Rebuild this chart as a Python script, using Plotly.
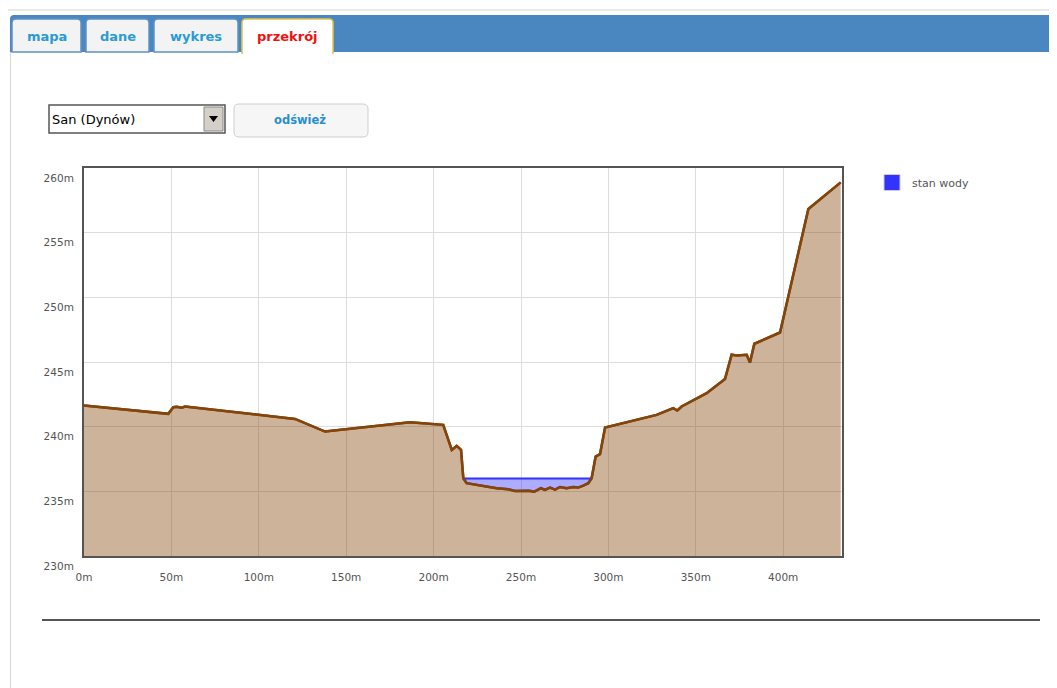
import plotly.graph_objects as go

# ---------------- data ----------------
distance_m = [0, 48.2, 51.1, 53.0, 55.9, 57.8, 120.7, 137.9, 186.5, 205.5, 210.4, 213.2,
              215.7, 217.0, 218.9, 227.5, 233.2, 236.1, 242.7, 246.6, 254.2, 257.6, 261.4,
              263.7, 266.6, 269.5, 272.3, 276.1, 279.9, 282.8, 285.6, 288.5, 290.4, 292.7,
              295.2, 298.1, 327.6, 337.1, 339.4, 341.9, 356.2, 366.7, 370.5, 373.4, 379.1,
              381.0, 383.5, 398.2, 414.4, 432.9]
elevation_m = [241.63, 240.99, 241.51, 241.53, 241.46, 241.56, 240.60, 239.62, 240.35, 240.14,
               238.20, 238.51, 238.20, 236.01, 235.63, 235.44, 235.29, 235.24, 235.16, 235.03,
               235.05, 234.98, 235.24, 235.11, 235.29, 235.13, 235.34, 235.24, 235.34, 235.29,
               235.44, 235.63, 236.01, 237.69, 237.87, 239.93, 240.91, 241.43, 241.25, 241.56,
               242.59, 243.68, 245.56, 245.50, 245.56, 244.96, 246.41, 247.28, 256.83, 258.89]
water_level_m = 236.0
water_start_m = 217.0
water_end_m = 290.4

x_ticks = [0, 50, 100, 150, 200, 250, 300, 350, 400]
x_tick_labels = ["0m", "50m", "100m", "150m", "200m", "250m", "300m", "350m", "400m"]
y_ticks = [230, 235, 240, 245, 250, 255, 260]
y_tick_labels = ["230m", "235m", "240m", "245m", "250m", "255m", "260m"]

tab_labels = ["mapa", "dane", "wykres", "przekrój"]
station_label = "San (Dynów)"
button_label = "odśwież"
legend_label = "stan wody"

# ---------------- page geometry (window pixels) ----------------
WIN_W, WIN_H = 1057, 688
OFF = 8  # default body margin of the html page
W, H = WIN_W - OFF, WIN_H - OFF
PL, PR, PT, PB = 84, 842, 168, 556


def px(X):
    return (X - OFF) / W


def py(Y):
    return 1 - (Y - OFF) / H


bed_x = [d for d in distance_m if water_start_m <= d <= water_end_m]
bed_y = [e for d, e in zip(distance_m, elevation_m) if water_start_m <= d <= water_end_m]

GROUND_LINE = "#85450a"
GROUND_FILL = "rgba(128,64,0,0.4)"
WATER = "#3333ff"
WATER_FILL = "rgba(51,51,255,0.4)"
TICK_FONT = dict(family="DejaVu Sans", size=10.5, color="#545454")

fig = go.Figure()

# ground profile (filled)
fig.add_trace(go.Scatter(x=distance_m, y=elevation_m, mode="lines", fill="tozeroy",
                         fillcolor=GROUND_FILL, line=dict(color=GROUND_LINE, width=2.5),
                         showlegend=False, hoverinfo="skip"))
# river bed under water (fill base)
fig.add_trace(go.Scatter(x=bed_x, y=bed_y, mode="lines", line=dict(width=0, color=WATER),
                         showlegend=False, hoverinfo="skip"))
# water surface filled down to the bed
fig.add_trace(go.Scatter(x=[water_start_m, water_end_m], y=[water_level_m, water_level_m],
                         mode="lines", fill="tonexty", fillcolor=WATER_FILL,
                         line=dict(color=WATER, width=2), showlegend=False, hoverinfo="skip"))
# ground line again on top of water
fig.add_trace(go.Scatter(x=distance_m, y=elevation_m, mode="lines",
                         line=dict(color=GROUND_LINE, width=2.5),
                         showlegend=False, hoverinfo="skip"))
# legend entry
fig.add_trace(go.Scatter(x=[None], y=[None], mode="markers", name=legend_label,
                         marker=dict(symbol="square", size=16, color=WATER,
                                     line=dict(color="#cccccc", width=1))))

shapes = []
annotations = []

# top light line and blue tab bar
shapes.append(dict(type="rect", xref="paper", yref="paper", x0=px(0), x1=px(WIN_W), y0=py(11), y1=py(9),
                   line=dict(width=0), fillcolor="#e8e8e8", layer="below"))
shapes.append(dict(type="path", xref="paper", yref="paper",
                   path=f"M {px(10)},{py(52)} L {px(10)},{py(19)} Q {px(10)},{py(15)} {px(14)},{py(15)} "
                        f"L {px(WIN_W)},{py(15)} L {px(WIN_W)},{py(52)} Z",
                   line=dict(width=0), fillcolor="#4a87c0", layer="below"))
# content left border
shapes.append(dict(type="line", xref="paper", yref="paper", x0=px(10.5), x1=px(10.5), y0=py(52), y1=py(WIN_H),
                   line=dict(color="#d8d8d8", width=1), layer="below"))

tab_boxes = [(12, 81), (86, 149), (154, 238), (242, 333)]
for i, ((x0, x1), lab) in enumerate(zip(tab_boxes, tab_labels)):
    active = i == len(tab_labels) - 1
    r = 4
    y0, y1 = 19, 53 if active else 52
    path = (f"M {px(x0)},{py(y1)} L {px(x0)},{py(y0 + r)} Q {px(x0)},{py(y0)} {px(x0 + r)},{py(y0)} "
            f"L {px(x1 - r)},{py(y0)} Q {px(x1)},{py(y0)} {px(x1)},{py(y0 + r)} L {px(x1)},{py(y1)} Z")
    shapes.append(dict(type="path", xref="paper", yref="paper", path=path,
                       fillcolor="#ffffff" if active else "#f3f3f3",
                       line=dict(color="#e6c44a" if active else "#5d93c6", width=1.5), layer="below"))
    annotations.append(dict(xref="paper", yref="paper", x=px((x0 + x1) / 2), y=py(37), text=f"<b>{lab}</b>",
                            showarrow=False, xanchor="center", yanchor="middle",
                            font=dict(family="DejaVu Sans", size=13, color="#ee1111" if active else "#2a9bd5")))
# cover bottom border of active tab
shapes.append(dict(type="rect", xref="paper", yref="paper", x0=px(243), x1=px(332), y0=py(54), y1=py(51),
                   line=dict(width=0), fillcolor="#ffffff", layer="below"))

# dropdown
shapes.append(dict(type="rect", xref="paper", yref="paper", x0=px(49), x1=px(225), y0=py(133), y1=py(105),
                   line=dict(color="#555555", width=1.5), fillcolor="#ffffff", layer="below"))
shapes.append(dict(type="rect", xref="paper", yref="paper", x0=px(204), x1=px(223), y0=py(131), y1=py(107),
                   line=dict(color="#888888", width=1), fillcolor="#d4d0c8", layer="below"))
shapes.append(dict(type="path", xref="paper", yref="paper",
                   path=f"M {px(209)},{py(116)} L {px(218)},{py(116)} L {px(213.5)},{py(122)} Z",
                   line=dict(width=0), fillcolor="#000000", layer="below"))
annotations.append(dict(xref="paper", yref="paper", x=px(50), y=py(119.5), text=station_label, showarrow=False,
                        xanchor="left", yanchor="middle",
                        font=dict(family="DejaVu Sans", size=13, color="#000000")))

# refresh button
bx0, bx1, by0, by1, br = 234, 368, 104, 137, 5
shapes.append(dict(type="path", xref="paper", yref="paper",
                   path=(f"M {px(bx0 + br)},{py(by0)} L {px(bx1 - br)},{py(by0)} Q {px(bx1)},{py(by0)} {px(bx1)},{py(by0 + br)} "
                         f"L {px(bx1)},{py(by1 - br)} Q {px(bx1)},{py(by1)} {px(bx1 - br)},{py(by1)} "
                         f"L {px(bx0 + br)},{py(by1)} Q {px(bx0)},{py(by1)} {px(bx0)},{py(by1 - br)} "
                         f"L {px(bx0)},{py(by0 + br)} Q {px(bx0)},{py(by0)} {px(bx0 + br)},{py(by0)} Z"),
                   line=dict(color="#cfcfcf", width=1), fillcolor="#f6f6f6", layer="below"))
annotations.append(dict(xref="paper", yref="paper", x=px(300), y=py(120.5), text=f"<b>{button_label}</b>",
                        showarrow=False, xanchor="center", yanchor="middle",
                        font=dict(family="DejaVu Sans", size=11.5, color="#2a8fd0")))

# bottom separator line
shapes.append(dict(type="line", xref="paper", yref="paper", x0=px(42), x1=px(1040), y0=py(620), y1=py(620),
                   line=dict(color="#555555", width=2)))

fig.update_layout(
    width=W, height=H,
    margin=dict(l=0, r=0, t=0, b=0, autoexpand=False),
    paper_bgcolor="#ffffff", plot_bgcolor="#ffffff",
    shapes=shapes, annotations=annotations,
    showlegend=True,
    legend=dict(x=px(872), y=py(168), xanchor="left", yanchor="top", bgcolor="rgba(0,0,0,0)",
                font=dict(family="DejaVu Sans", size=11, color="#545454"), itemwidth=30),
    xaxis=dict(domain=[px(PL), px(PR)], range=[0, (PR - PL) / 1.748], tickvals=x_ticks, ticktext=x_tick_labels,
               showgrid=True, gridcolor="#dddddd", gridwidth=1, zeroline=False,
               showline=True, mirror=True, linecolor="#545454", linewidth=2,
               ticks="", tickfont=TICK_FONT, ticklabelstandoff=10, fixedrange=True),
    yaxis=dict(domain=[py(PB), py(PT)], range=[230, 260], tickvals=y_ticks, ticktext=y_tick_labels,
               showgrid=True, gridcolor="#dddddd", gridwidth=1, zeroline=False,
               showline=True, mirror=True, linecolor="#545454", linewidth=2,
               ticks="", tickfont=TICK_FONT, ticklabelstandoff=6, ticklabelshift=10, fixedrange=True),
)

fig.write_html("out.html")
